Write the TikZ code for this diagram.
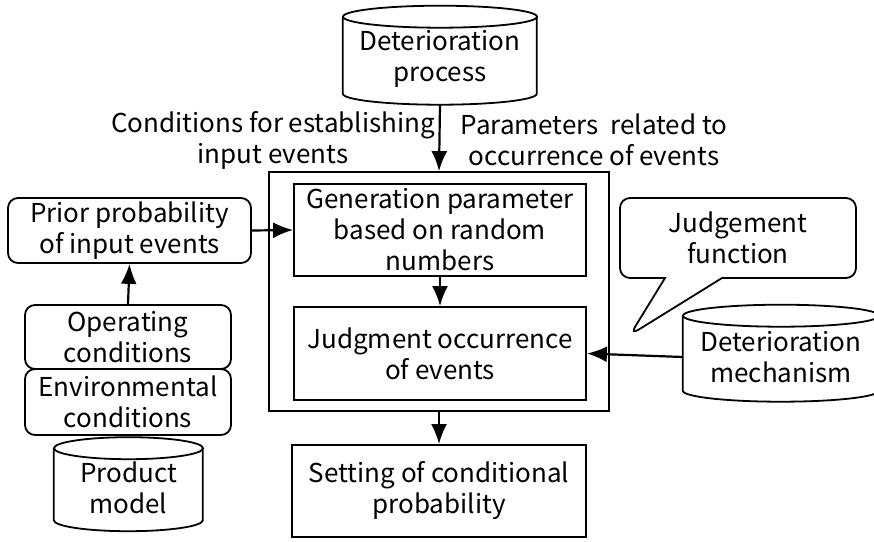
\documentclass[tikz,border=0pt]{standalone}
\usepackage{fontspec}
\setmainfont{Noto Sans CJK JP}
\usetikzlibrary{calc, shapes.callouts, arrows.meta}

% 圆柱: 名字, x, y, 宽, 高, 文字
\newcommand\drum[6]{%
  \node[align=center, minimum width=#4, minimum height=#5-8, inner sep=0] (#1) at (#2, #3+4) {#6};
  \draw[line width=1.8pt] ($(#1.south west)+(0pt,{#5*1pt-11pt})$) -- ($(#1.south west)+(0pt,11pt)$)
    arc[start angle=180, end angle=360, x radius=#4/2*1pt, y radius=11pt]
    -- ++(0pt,{#5*1pt-22pt});
  \draw[line width=1.8pt] ($(#1.south)+(0pt,{#5*1pt-11pt})$) ellipse[x radius=#4/2*1pt, y radius=11pt];
}

\begin{document}
\begin{tikzpicture}[x=1pt, y=-1pt, font=\fontsize{26}{31}\selectfont,
  box/.style={draw, line width=1.8pt, align=center, inner sep=0},
  rbox/.style={box, rounded corners=10},
  link/.style={-{Latex[length=20pt, width=16pt]}, line width=2.2pt}]
\useasboundingbox (0, 0) rectangle (874, 541);
% 中央
\node[box, minimum width=340, minimum height=239] (frame) at (439, 291.5) {};
\node[box, minimum width=292, minimum height=92] (gen) at (440, 230) {Generation parameter\\based on random\\numbers};
\node[box, minimum width=292, minimum height=93] (judg) at (440, 353.5) {Judgment occurrence\\of events};
\node[box, minimum width=294, minimum height=92] (setc) at (439, 491) {Setting of conditional\\probability};
% 圆柱
\drum{proc}{440}{55}{194}{99}{Deterioration\\process}
\drum{mech}{781}{353}{196}{97}{Deterioration\\mechanism}
\drum{prod}{128.5}{484}{149}{94}{Product\\model}
% 左边
\node[rbox, minimum width=243, minimum height=65] (prior) at (129.5, 230.5) {Prior probability\\of input events};
\node[rbox, minimum width=206, minimum height=64] (oper) at (128, 337) {Operating\\conditions};
\node[rbox, minimum width=206, minimum height=66] (envc) at (128, 402) {Environmental\\conditions};
% 对话框
\node[rectangle callout, draw, line width=1.8pt, rounded corners=10, align=center,
  minimum width=236, minimum height=80, callout pointer width=57,
  callout absolute pointer={(630, 335)}]
  (jfun) at (738, 238) {Judgement\\function};
%Text
\node[align=center] (condl) at (273, 140) {Conditions for establishing\\input events};
\node[align=center] (paraml) at (594, 140) {Parameters\ \ related to\\occurrence of events};
% 箭头
\draw[link] (proc.south) -- (frame.north);
\draw[link] (prior.east) -- (gen.west);
\draw[link] (oper.north) -- (prior.south);
\draw[link] (gen) -- (judg);
\draw[link] (frame.south) -- (setc.north);
\draw[link] (mech.west) -- (judg.east);
\end{tikzpicture}
\end{document}
